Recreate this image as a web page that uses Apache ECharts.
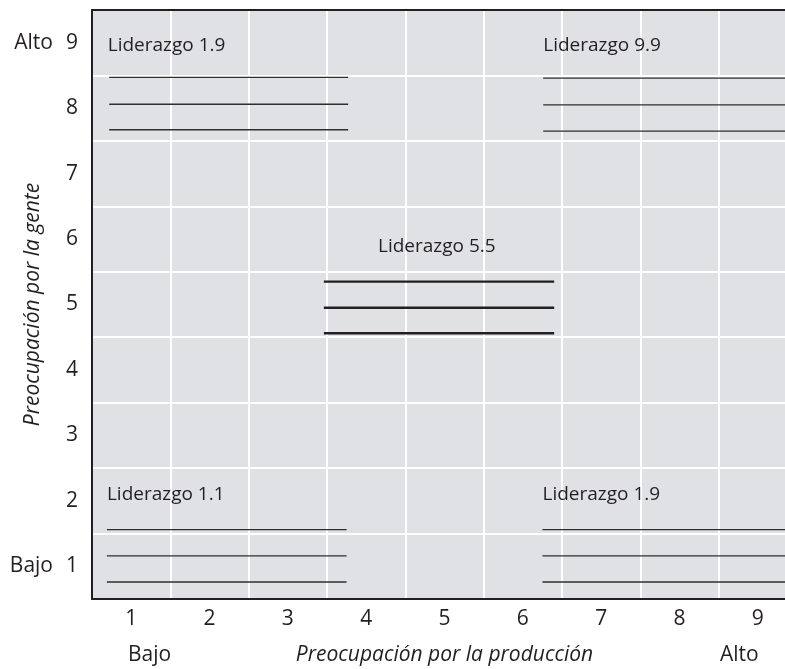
<!DOCTYPE html>
<html><head><meta charset="utf-8">
<script src="https://cdn.jsdelivr.net/npm/echarts@6/dist/echarts.min.js"></script>
<style>html,body{margin:0;padding:0;background:#fff}#c{width:785px;height:669px}</style>
</head><body><div id="c"></div>
<script>
const xCategories = ['1','2','3','4','5','6','7','8','9'];
const yCategories = ['1','2','3','4','5','6','7','8','9'];
const styleNames = ['Liderazgo 1.9','Liderazgo 9.9','Liderazgo 5.5','Liderazgo 1.1','Liderazgo 1.9'];
const nameX = [0.20, 5.76, 3.65, 0.19, 5.75];
const nameY = [8.46, 8.46, 5.38, 1.60, 1.60];
const segStart = [0.22, 5.76, 2.96, 0.19, 5.75];
const segEnd = [3.27, 9.0, 5.90, 3.25, 9.0];
const segLevels = [[7.97,7.56,7.17],[7.96,7.55,7.15],[4.85,4.45,4.06],[1.06,0.66,0.26],[1.06,0.66,0.26]];
const yEndLabels = {'9':'Alto','1':'Bajo'};
const xEndLabels = ['Bajo','Alto'];
const xTitle = 'Preocupación por la producción';
const yTitle = 'Preocupación por la gente';

const FONT = '"Open Sans", sans-serif';
const TXT = '#231f20';
const AX = 21;
const series = [];
segLevels.forEach((levels, g) => {
  levels.forEach(y => {
    series.push({
      type:'line', xAxisIndex:1, yAxisIndex:1, symbol:'none', silent:true,
      data:[[segStart[g], y],[segEnd[g], y]],
      lineStyle:{color: g===2 ? '#231f20' : '#2e2e2e', width: g===2 ? 2.4 : 1.3},
      z:5
    });
  });
});
series.push({
  type:'scatter', xAxisIndex:1, yAxisIndex:1, symbolSize:0.1, silent:true,
  itemStyle:{color:'#dfe1e4', opacity:1},
  data: styleNames.map((n,i)=>({value:[nameX[i], nameY[i]], name:n})),
  label:{show:true, position:'right', distance:0, formatter:p=>p.name,
    fontFamily:FONT, fontSize:19, color:TXT, opacity:1, verticalAlign:'middle'},
  z:6
});

const chart = echarts.init(document.getElementById('c'), null, {renderer:'canvas'});
chart.setOption({
  animation:false,
  backgroundColor:'#fff',
  grid:{left:92, right:-12, top:10, bottom:70, show:true, backgroundColor:'#dfe1e4', borderWidth:0,
        containLabel:false, outerBoundsMode:'none'},
  xAxis:[
    {type:'category', data:xCategories, boundaryGap:true, position:'bottom',
     axisLine:{show:true, lineStyle:{color:'#231f20', width:2}}, axisTick:{show:false},
     splitLine:{show:true, lineStyle:{color:'#ffffff', width:2}},
     axisLabel:{fontFamily:FONT, fontSize:AX, color:TXT, margin:10},
     name:xTitle, nameLocation:'middle', nameGap:46, nameMoveOverlap:false,
     nameTextStyle:{fontFamily:FONT, fontSize:AX, fontStyle:'italic', color:TXT}},
    {type:'value', min:0, max:9, position:'top', show:true,
     axisLine:{show:true, onZero:false, lineStyle:{color:'#231f20', width:2}}, axisTick:{show:false},
     axisLabel:{show:false}, splitLine:{show:false}}
  ],
  yAxis:[
    {type:'category', data:yCategories, boundaryGap:true, position:'left',
     axisLine:{show:true, lineStyle:{color:'#231f20', width:2}}, axisTick:{show:false},
     splitLine:{show:true, lineStyle:{color:'#ffffff', width:2}},
     axisLabel:{fontFamily:FONT, fontSize:AX, color:TXT, margin:14,
       formatter:v => yEndLabels[v] ? '{e|'+yEndLabels[v]+'}'+v : v,
       rich:{e:{fontFamily:FONT, fontSize:AX, color:TXT, padding:[0,13,0,0]}}},
     name:yTitle, nameLocation:'middle', nameGap:48, nameMoveOverlap:false,
     nameTextStyle:{fontFamily:FONT, fontSize:AX, fontStyle:'italic', color:TXT}},
    {type:'value', min:0, max:9, show:false}
  ],
  graphic:[
    {type:'text', left:128, top:645, style:{text:xEndLabels[0], font:AX+'px "Open Sans", sans-serif', fill:TXT}},
    {type:'text', left:720, top:645, style:{text:xEndLabels[1], font:AX+'px "Open Sans", sans-serif', fill:TXT}}
  ],
  series:series
});
</script></body></html>
